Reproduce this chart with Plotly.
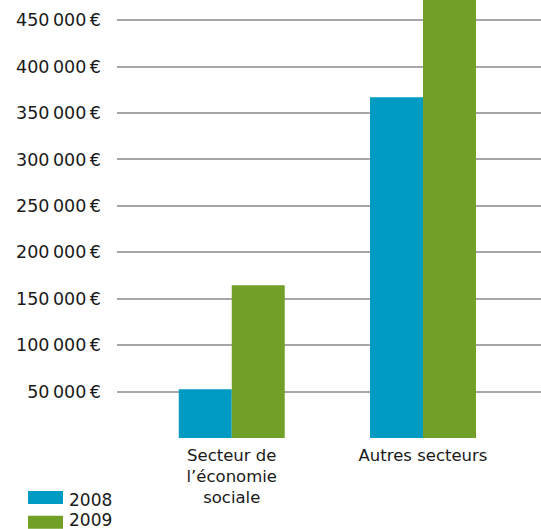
import plotly.graph_objects as go

categories = ["Secteur de<br>l’économie<br>sociale", "Autres secteurs"]
series_names = ["2008", "2009"]
values_2008 = [52500, 367000]
values_2009 = [164500, 495000]
colors = ["#009BC3", "#72A027"]

tick_vals = [0, 50000, 100000, 150000, 200000, 250000, 300000, 350000, 400000, 450000]
tick_text = ["", "50\u2009000\u2009€", "100\u2009000\u2009€", "150\u2009000\u2009€", "200\u2009000\u2009€",
             "250\u2009000\u2009€", "300\u2009000\u2009€", "350\u2009000\u2009€", "400\u2009000\u2009€",
             "450\u2009000\u2009€"]

FONT = "DejaVu Sans"

fig = go.Figure()
for name, vals, col in zip(series_names, [values_2008, values_2009], colors):
    fig.add_trace(go.Bar(x=categories, y=vals, name=name, marker=dict(color=col, line=dict(width=0)),
                         showlegend=False))

fig.update_layout(
    width=541, height=529,
    margin=dict(l=117, r=0, t=0, b=91),
    paper_bgcolor="white", plot_bgcolor="white",
    barmode="group", bargap=0.446, bargroupgap=0,
    font=dict(family=FONT, size=17, color="#1a1a1a"),
    xaxis=dict(range=[-0.6, 1.617], showgrid=False, showline=False, zeroline=False,
               ticks="", tickfont=dict(size=16.5), ticklabelstandoff=5, automargin=False),
    yaxis=dict(range=[0, 471700], tickvals=tick_vals, ticktext=tick_text,
               showgrid=True, gridcolor="#a6a6a6", gridwidth=2, zeroline=False,
               showline=False, ticks="", ticklabelstandoff=15, tickfont=dict(size=17.5),
               automargin=False),
)

# legend drawn as shapes + text in pixel-derived paper coords
plot_h = 529 - 91
legend_box_tops = [491, 515.7]
legend_text_centers = [500, 519.5]
for name, col, top, tc in zip(series_names, colors, legend_box_tops, legend_text_centers):
    bot = top + 13
    fig.add_shape(type="rect", xref="paper", yref="paper",
                  x0=(28 - 117) / 424, x1=(63 - 117) / 424,
                  y0=(plot_h - bot) / plot_h, y1=(plot_h - top) / plot_h,
                  line=dict(width=0), fillcolor=col)
    fig.add_annotation(xref="paper", yref="paper", x=(67 - 117) / 424,
                       y=(plot_h - tc) / plot_h, text=name, showarrow=False,
                       xanchor="left", yanchor="middle", font=dict(size=17))

fig.write_html("out.html", config={"displayModeBar": False},
               post_script="document.body.style.margin='0';document.body.style.overflow='hidden';")
